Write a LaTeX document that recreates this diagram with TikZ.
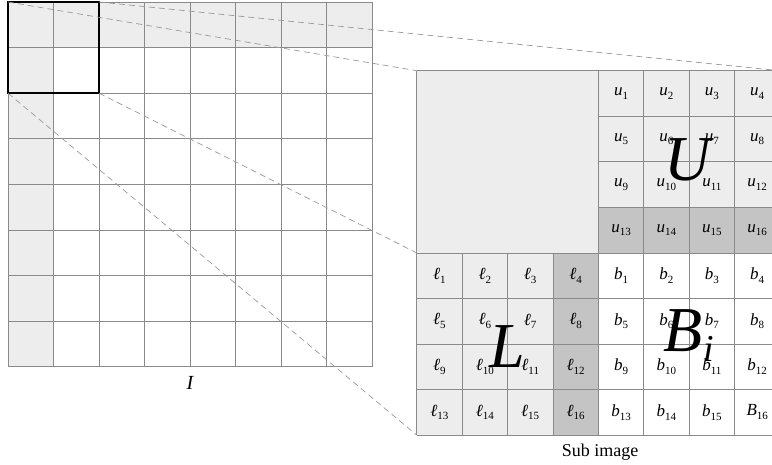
\documentclass[tikz,border=0pt]{standalone}
\usepackage{fontspec}
\setmainfont{Liberation Serif}
\definecolor{lightg}{HTML}{EDEDED}
\definecolor{darkg}{HTML}{C4C4C4}
\definecolor{gridgray}{HTML}{8A8A8A}
\definecolor{dashgray}{HTML}{9A9A9A}
\newcommand{\cellab}[2]{\textit{#1}\raisebox{-0.22em}{\fontsize{11}{11}\selectfont #2}}
\begin{document}
\begin{tikzpicture}[x=1pt,y=-1pt,
  gridline/.style={draw=gridgray, line width=0.7pt},
  dashline/.style={draw=dashgray, line width=0.7pt, dash pattern=on 6pt off 4pt},
  celltext/.style={font=\fontsize{17}{17}\selectfont, inner sep=0pt},
  bigtext/.style={font=\fontsize{64}{64}\selectfont, inner sep=0pt}]
\useasboundingbox (0,0) rectangle (772,465);
\begin{scope}
\clip (0,0) rectangle (772,465);
% ---------- left image I ----------
\fill[lightg] (8,2) rectangle (372,47.6);
\fill[lightg] (8,2) rectangle (53.5,366.8);
\foreach \i in {0,...,8} \draw[gridline] ({8+45.5*\i},2) -- ({8+45.5*\i},366.8);
\foreach \j in {0,...,8} \draw[gridline] (8,{2+45.6*\j}) -- (372,{2+45.6*\j});
\node[font=\fontsize{20}{20}\selectfont\itshape, inner sep=0pt] (Ilab) at (190,383) {I};
% ---------- sub image ----------
\def\Xo{416.7}\def\Yo{70.7}\def\cw{45.4}\def\ch{45.55}
\node[inner sep=0pt, outer sep=0pt, minimum width=363.2pt, minimum height=364.4pt, anchor=north west] (sub) at (\Xo,\Yo) {};
\fill[lightg] (\Xo,\Yo) rectangle ({\Xo+8*\cw},{\Yo+4*\ch});
\fill[darkg] ({\Xo+4*\cw},{\Yo+3*\ch}) rectangle ({\Xo+8*\cw},{\Yo+4*\ch});
\fill[lightg] (\Xo,{\Yo+4*\ch}) rectangle ({\Xo+4*\cw},{\Yo+8*\ch});
\fill[darkg] ({\Xo+3*\cw},{\Yo+4*\ch}) rectangle ({\Xo+4*\cw},{\Yo+8*\ch});
% vertical lines
\draw[gridline] (\Xo,\Yo) -- (\Xo,{\Yo+8*\ch});
\foreach \i in {1,2,3} \draw[gridline] ({\Xo+\i*\cw},{\Yo+4*\ch}) -- ({\Xo+\i*\cw},{\Yo+8*\ch});
\foreach \i in {4,...,8} \draw[gridline] ({\Xo+\i*\cw},\Yo) -- ({\Xo+\i*\cw},{\Yo+8*\ch});
% horizontal lines
\draw[gridline] (\Xo,\Yo) -- ({\Xo+8*\cw},\Yo);
\foreach \j in {1,2,3} \draw[gridline] ({\Xo+4*\cw},{\Yo+\j*\ch}) -- ({\Xo+8*\cw},{\Yo+\j*\ch});
\foreach \j in {4,...,8} \draw[gridline] (\Xo,{\Yo+\j*\ch}) -- ({\Xo+8*\cw},{\Yo+\j*\ch});
% labels
\foreach \r in {0,...,3}{
  \foreach \c in {0,...,3}{
    \pgfmathtruncatemacro\n{4*\r+\c+1}
    \node[celltext] (u\n) at ({\Xo+(4+\c+0.5)*\cw},{\Yo+(\r+0.5)*\ch}) {\cellab{u}{\n}};
    \node[celltext] (l\n) at ({\Xo+(\c+0.5)*\cw},{\Yo+(4+\r+0.5)*\ch}) {\cellab{ℓ}{\n}};
    \node[celltext] (b\n) at ({\Xo+(4+\c+0.5)*\cw},{\Yo+(4+\r+0.5)*\ch}) {\cellab{\ifnum\n=16 B\else b\fi}{\n}};
  }
}
% big letters
\node[bigtext] (Ubig) at (689.3,160) {\textit{U}};
\node[bigtext] (Lbig) at (507.5,347) {\textit{L}};
\node[bigtext, anchor=base west] (Bbig) at (663,352) {\textit{B}\hspace{1pt}\raisebox{-10pt}{\fontsize{38}{38}\selectfont\textit{i}}};
\node[font=\fontsize{18}{18}\selectfont, inner sep=0pt] (cap) at (600,452) {Sub image};
% ---------- zoom box and connectors ----------
\node[draw=black, line width=2pt, inner sep=0pt, outer sep=0pt, minimum width=91pt, minimum height=91.2pt, anchor=north west] (box) at (8,2) {};
\draw[dashline] (box.north west) -- (sub.north west);
\draw[dashline] (box.north east) -- (sub.north east);
\draw[dashline] (box.south west) -- (sub.south west);
\draw[dashline] (box.south east) -- (sub.west);
\end{scope}
\end{tikzpicture}
\end{document}
